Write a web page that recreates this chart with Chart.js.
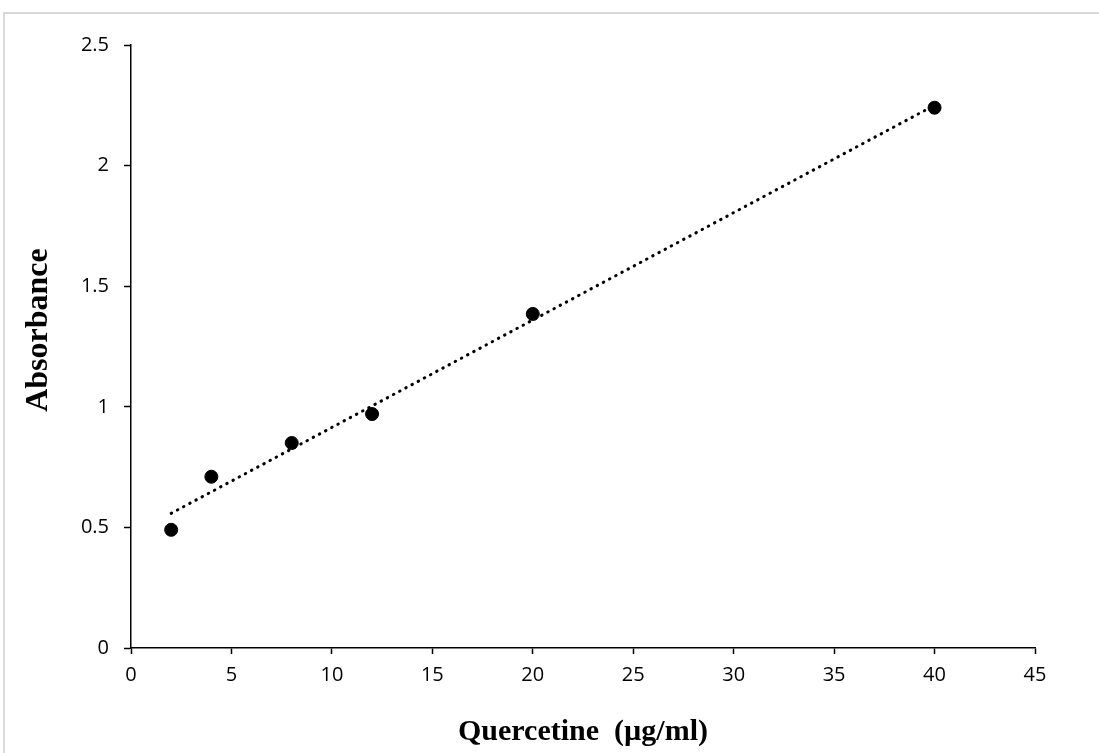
<!DOCTYPE html>
<html>
<head>
<meta charset="utf-8">
<style>
  html, body { margin: 0; padding: 0; background: #fff; overflow: hidden; }
  #frame { position: absolute; left: 3px; top: 12px; width: 1200px; height: 900px; border: 2px solid #d9d9d9; }
  #wrap { position: absolute; left: 0; top: 0; width: 1099px; height: 753px; }
</style>
<script src="https://cdn.jsdelivr.net/npm/chart.js@4"></script>
</head>
<body>
<div id="frame"></div>
<div id="wrap"><canvas id="myChart" width="1099" height="753"></canvas></div>
<script>
  // quercetine standard curve
  var conc = [2, 4, 8, 12, 20, 40];
  var absorbance = [0.49, 0.71, 0.85, 0.97, 1.385, 2.24];

  var xTicks = [0, 5, 10, 15, 20, 25, 30, 35, 40, 45];
  var yTicks = [0, 0.5, 1, 1.5, 2, 2.5];

  // linear trendline (least squares) from the points
  var n = conc.length, sx = 0, sy = 0, sxx = 0, sxy = 0;
  for (var i = 0; i < n; i++) {
    sx += conc[i]; sy += absorbance[i];
    sxx += conc[i] * conc[i]; sxy += conc[i] * absorbance[i];
  }
  var slope = (n * sxy - sx * sy) / (n * sxx - sx * sx);
  var icept = (sy - slope * sx) / n;
  var xFirst = Math.min.apply(null, conc), xLast = Math.max.apply(null, conc);
  var trend = [
    { x: xFirst, y: icept + slope * xFirst },
    { x: xLast, y: icept + slope * xLast }
  ];

  var points = conc.map(function (c, i) { return { x: c, y: absorbance[i] }; });

  var tickFont = { family: "'Open Sans', 'Liberation Sans', sans-serif", size: 20 };
  var titleFont = { family: "'Liberation Serif', 'Times New Roman', serif", size: 30, weight: 'bold' };

  // y title drawn by hand so it can sit a bit above the plot centre, like excel does
  var yTitle = {
    id: 'yTitle',
    afterDraw: function (chart) {
      var ctx = chart.ctx;
      ctx.save();
      ctx.translate(39, 330);
      ctx.rotate(-Math.PI / 2);
      ctx.font = 'bold 32px "Liberation Serif", "Times New Roman", serif';
      ctx.fillStyle = '#000';
      ctx.textAlign = 'center';
      ctx.textBaseline = 'middle';
      ctx.fillText('Absorbance', 0, 0);
      ctx.restore();
    }
  };

  const config = {
    type: 'scatter',
    data: {
      datasets: [
        {
          label: 'Trend',
          data: trend,
          showLine: true,
          borderColor: '#000',
          borderWidth: 3,
          borderDash: [0.5, 6.5],
          borderCapStyle: 'round',
          pointRadius: 0,
          fill: false
        },
        {
          label: 'Absorbance',
          data: points,
          backgroundColor: '#000',
          borderColor: '#000',
          pointRadius: 6.5,
          pointHoverRadius: 6.5
        }
      ]
    },
    options: {
      responsive: false,
      animation: false,
      layout: { padding: { left: 0, right: 64, top: 45, bottom: 0 } },
      plugins: { legend: { display: false }, tooltip: { enabled: false } },
      scales: {
        x: {
          type: 'linear',
          min: 0, max: 45,
          afterBuildTicks: function (s) { s.ticks = xTicks.map(function (v) { return { value: v }; }); },
          afterFit: function (s) { s.height = 105; },
          grid: { drawOnChartArea: false, drawTicks: true, tickLength: 6, tickColor: '#000', tickWidth: 1.5 },
          border: { color: '#000', width: 1.5 },
          ticks: { color: '#000', font: tickFont, padding: 9, maxRotation: 0,
                   callback: function (v) { return String(v); } },
          title: { display: true, text: 'Quercetine  (µg/ml)', color: '#000', font: titleFont, padding: { top: 0, bottom: 3 } }
        },
        y: {
          min: 0, max: 2.5,
          afterBuildTicks: function (s) { s.ticks = yTicks.map(function (v) { return { value: v }; }); },
          afterFit: function (s) { s.width = 131; },
          grid: { drawOnChartArea: false, drawTicks: true, tickLength: 7, tickColor: '#000', tickWidth: 1.5 },
          border: { color: '#000', width: 1.5 },
          ticks: { color: '#000', font: tickFont, padding: 15,
                   callback: function (v) { return String(v); } }
        }
      }
    },
    plugins: [yTitle]
  };

  var myChart = new Chart(document.getElementById('myChart'), config);
</script>
</body>
</html>
